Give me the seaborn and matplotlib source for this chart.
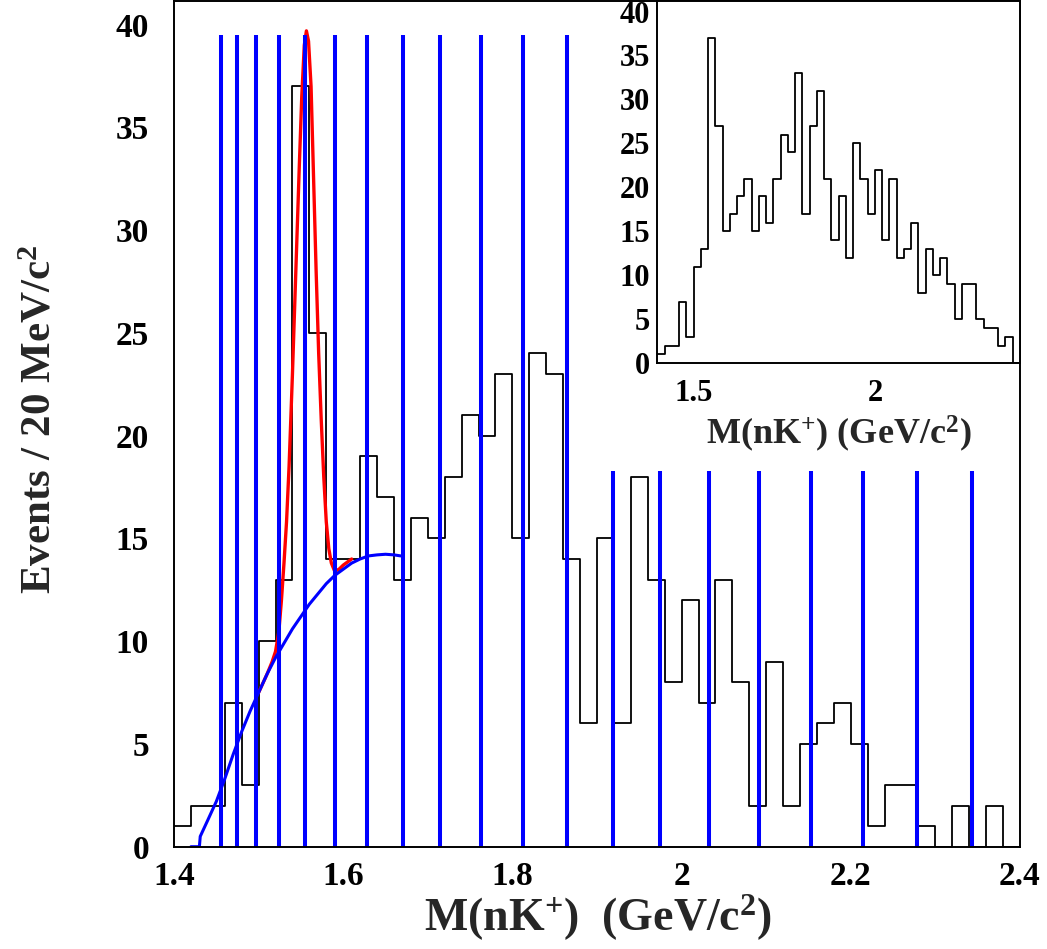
# nK+ invariant mass spectrum with fit and inset

import numpy as np
import pandas as pd
import matplotlib
matplotlib.use('Agg')
import matplotlib.pyplot as plt
import seaborn as sns
from matplotlib.ticker import MultipleLocator, FuncFormatter, NullLocator

sns.set_style('white')
plt.rcParams['font.family'] = ['Liberation Serif', 'DejaVu Serif']
plt.rcParams['font.weight'] = 'bold'
plt.rcParams['mathtext.default'] = 'regular'

# 20 MeV bins from 1.4 to 2.4 GeV/c2
bin_edges = np.round(np.linspace(1.4, 2.4, 51), 3)

main_counts = [1, 2, 2, 7, 3, 10, 13, 37, 25, 14,
               14, 19, 17, 13, 16, 15, 18, 21, 20, 23,
               15, 24, 23, 14, 6, 15, 6, 18, 13, 8,
               12, 7, 13, 8, 2, 9, 2, 5, 6, 7,
               5, 1, 3, 3, 1, 0, 2, 0, 2, 0]

inset_counts = [1, 2, 2, 7, 3, 11, 13, 37, 27, 15,
                17, 19, 21, 15, 19, 16, 21, 26, 24, 33,
                17, 27, 31, 21, 14, 19, 12, 25, 21, 17,
                22, 14, 21, 12, 13, 16, 8, 13, 10, 12,
                9, 5, 9, 9, 5, 4, 4, 2, 3, 0]

# background curve (blue)
bkg_x = [1.420, 1.430, 1.431, 1.440, 1.450, 1.460, 1.470, 1.480, 1.490,
         1.500, 1.510, 1.520, 1.530, 1.540, 1.550, 1.560, 1.570, 1.580,
         1.590, 1.600, 1.610, 1.620, 1.630, 1.640, 1.650, 1.660, 1.668]
bkg_y = [0.0, 0.0, 0.5, 1.3, 2.2, 3.3, 4.5, 5.6, 6.6,
         7.5, 8.4, 9.2, 9.9, 10.6, 11.2, 11.8, 12.3, 12.8,
         13.2, 13.5, 13.8, 14.0, 14.15, 14.2, 14.23, 14.2, 14.15]

# signal + background (red)
fit_x = [1.500, 1.510, 1.516, 1.520, 1.524, 1.527, 1.530, 1.533, 1.536,
         1.540, 1.544, 1.548, 1.551, 1.554, 1.5565, 1.559, 1.562, 1.565,
         1.568, 1.571, 1.574, 1.577, 1.580, 1.583, 1.586, 1.590, 1.595,
         1.600, 1.610]
fit_y = [7.5, 8.4, 9.0, 9.5, 10.5, 12.0, 13.8, 15.8, 18.5,
         23.0, 28.0, 33.0, 36.5, 39.0, 39.7, 39.2, 37.0, 32.5,
         28.0, 24.0, 20.8, 18.0, 15.8, 14.5, 13.8, 13.4, 13.5,
         13.7, 14.0]

# vertical marker lines
tall_lines = [1.4556, 1.4741, 1.4969, 1.5238, 1.5548, 1.5899,
              1.6285, 1.6703, 1.7148, 1.7625, 1.8121, 1.8641]
short_lines = [1.9185, 1.9745, 2.0324, 2.0919, 2.1525, 2.2148, 2.2786, 2.3428]
tall_top = 39.5
short_top = 18.3

centers = bin_edges[:-1] + 0.01
df_main = pd.DataFrame({'mass': centers, 'n': main_counts})
df_inset = pd.DataFrame({'mass': centers, 'n': inset_counts})

fig = plt.figure(figsize=(10.47, 9.49), dpi=100)

# 1. main plot
ax = fig.add_axes([0.1662, 0.1078, 0.8080, 0.8911])
sns.histplot(data=df_main, x='mass', weights='n', binwidth=0.02, binrange=(1.4, 2.4),
             element='step', fill=False, color='black', linewidth=1.3, ax=ax)
sns.lineplot(x=fit_x, y=fit_y, color='red', linewidth=2.4, sort=False,
             estimator=None, ax=ax)
ax.vlines(tall_lines, 0, tall_top, color='blue', linewidth=2.9)
ax.vlines(short_lines, 0, short_top, color='blue', linewidth=2.9)
sns.lineplot(x=bkg_x, y=bkg_y, color='blue', linewidth=2.2, sort=False,
             estimator=None, ax=ax)

ax.set_xlim(1.4, 2.4)
ax.set_ylim(0, 41.15)
ax.xaxis.set_major_locator(MultipleLocator(0.2))
ax.xaxis.set_minor_locator(MultipleLocator(0.05))
ax.yaxis.set_major_locator(MultipleLocator(5))
ax.yaxis.set_minor_locator(MultipleLocator(1))
ax.xaxis.set_major_formatter(FuncFormatter(lambda v, p: f'{v:g}'))
ax.tick_params(which='both', direction='in', top=False, right=False, width=1.4, colors='black')
ax.tick_params(which='major', length=13.5, labelsize=24)
ax.tick_params(which='minor', length=6.7)
ax.tick_params(axis='y', which='major', pad=18)
ax.tick_params(axis='x', which='major', pad=10)
for s in ax.spines.values():
    s.set_linewidth(1.4)
    s.set_color('black')

ax.set_xlabel('M(nK$^{+}$)  (GeV/c$^{2}$)', fontsize=33, fontweight='bold')
ax.xaxis.set_label_coords(0.5006, -0.055)
ax.set_ylabel('Events / 20 MeV/c$^{2}$', fontsize=31, fontweight='bold')
ax.yaxis.set_label_coords(-0.135, 0.505)

# 2. inset
axin = fig.add_axes([0.6278, 0.6172, 0.3464, 0.3818])
axin.set_facecolor('white')
sns.histplot(data=df_inset, x='mass', weights='n', binwidth=0.02, binrange=(1.4, 2.4),
             element='step', fill=False, color='black', linewidth=1.3, ax=axin)
axin.set_xlim(1.4, 2.4)
axin.set_ylim(0, 41.2)
axin.xaxis.set_major_locator(MultipleLocator(0.5))
axin.xaxis.set_minor_locator(NullLocator())
axin.yaxis.set_major_locator(MultipleLocator(5))
axin.yaxis.set_minor_locator(MultipleLocator(1))
axin.xaxis.set_major_formatter(FuncFormatter(lambda v, p: f'{v:g}'))
axin.tick_params(which='both', direction='in', top=False, right=False, width=1.0, colors='black')
axin.tick_params(which='major', length=13, labelsize=22)
axin.tick_params(which='minor', length=6.5)
axin.tick_params(axis='y', which='major', pad=5)
axin.tick_params(axis='x', which='major', pad=11)
for s in axin.spines.values():
    s.set_linewidth(1.4)
    s.set_color('black')
axin.set_xlabel('M(nK$^{+}$) (GeV/c$^{2}$)', fontsize=26, fontweight='bold')
axin.set_ylabel('')

fig.savefig('out.png', dpi=100)
